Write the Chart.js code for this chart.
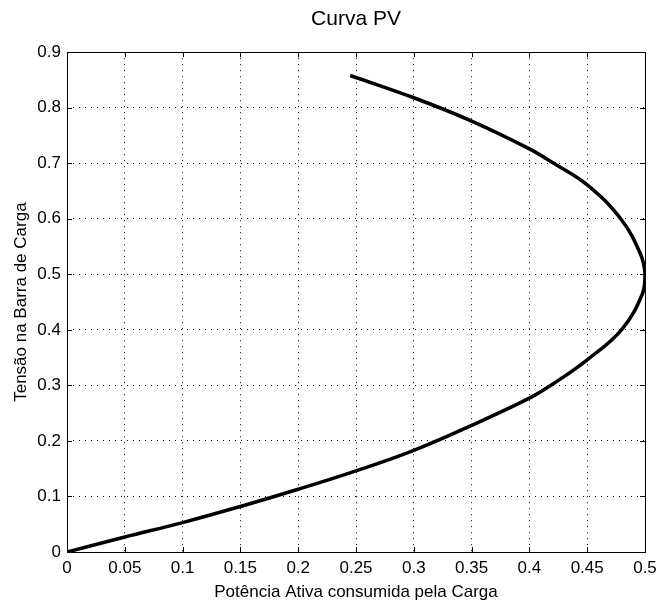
<!DOCTYPE html>
<html>
<head>
<meta charset="utf-8">
<script src="https://cdn.jsdelivr.net/npm/chart.js@4/dist/chart.umd.min.js"></script>
<style>
  html, body { margin: 0; padding: 0; background: #fff; }
  #wrap { width: 656px; height: 603px; }
</style>
</head>
<body>
<div id="wrap"><canvas id="pv"></canvas></div>
<script>
// Curva PV: tensão na barra de carga (V) contra potência ativa (P)
const tensao = [
  0.000, 0.027, 0.053, 0.082, 0.113, 0.146, 0.183, 0.228, 0.277, 0.302,
  0.346, 0.401, 0.466, 0.500, 0.537, 0.600, 0.661, 0.700, 0.726, 0.776,
  0.818, 0.858
];
const potencia = [
  0.000, 0.050, 0.100, 0.150, 0.200, 0.250, 0.300, 0.350, 0.400, 0.420,
  0.450, 0.480, 0.498, 0.500, 0.496, 0.479, 0.450, 0.421, 0.400, 0.350,
  0.300, 0.245
];

const xMin = 0, xMax = 0.5, xStep = 0.05;
const yMin = 0, yMax = 0.9, yStep = 0.1;

const FONT = "'Liberation Sans', Arial, Helvetica, sans-serif";

// frame around the plot plus inward tick marks on all four sides
const frameTicks = {
  id: 'frameTicks',
  afterDraw(chart) {
    const { ctx, chartArea: a, scales: { x, y } } = chart;
    const len = 5;
    ctx.save();
    ctx.strokeStyle = '#000';
    ctx.lineWidth = 1;
    ctx.beginPath();
    x.ticks.forEach(t => {
      const px = Math.round(x.getPixelForValue(t.value)) + 0.5;
      ctx.moveTo(px, a.bottom); ctx.lineTo(px, a.bottom - len);
      ctx.moveTo(px, a.top); ctx.lineTo(px, a.top + len);
    });
    y.ticks.forEach(t => {
      const py = Math.round(y.getPixelForValue(t.value)) + 0.5;
      ctx.moveTo(a.left, py); ctx.lineTo(a.left + len, py);
      ctx.moveTo(a.right, py); ctx.lineTo(a.right - len, py);
    });
    ctx.stroke();
    ctx.strokeRect(Math.round(a.left) + 0.5, Math.round(a.top) + 0.5,
      Math.round(a.right - a.left), Math.round(a.bottom - a.top));
    ctx.restore();
  }
};

const points = tensao.map((v, i) => ({ x: potencia[i], y: v }));

new Chart(document.getElementById('pv'), {
  type: 'scatter',
  data: {
    datasets: [{
      data: points,
      showLine: true,
      borderColor: '#000',
      borderWidth: 3.5,
      pointRadius: 0,
      tension: 0.4
    }]
  },
  options: {
    responsive: true,
    maintainAspectRatio: false,
    animation: false,
    layout: { padding: { left: 0, right: 0, top: 0, bottom: 0 } },
    plugins: {
      legend: { display: false },
      tooltip: { enabled: false },
      title: {
        display: true,
        text: 'Curva PV',
        fullSize: false,
        color: '#000',
        font: { family: FONT, size: 21, weight: 'normal' },
        padding: { top: 7, bottom: 20 }
      }
    },
    scales: {
      x: {
        type: 'linear',
        min: xMin, max: xMax,
        ticks: {
          stepSize: xStep,
          color: '#000',
          padding: 6,
          font: { family: FONT, size: 17 },
          callback: v => +v.toFixed(2) + ''
        },
        grid: { color: '#000', lineWidth: 1, drawTicks: false },
        border: { display: false, dash: [1, 5] },
        title: {
          display: true,
          text: 'Potência Ativa consumida pela Carga',
          color: '#000',
          font: { family: FONT, size: 17 },
          padding: { top: 0, bottom: 0 }
        },
        afterFit(s) {
          s.height = 51;
          s.paddingLeft = 0;
          s.paddingRight = 11;
        }
      },
      y: {
        type: 'linear',
        min: yMin, max: yMax,
        ticks: {
          stepSize: yStep,
          color: '#000',
          padding: 6,
          font: { family: FONT, size: 17 },
          callback: v => +v.toFixed(1) + ''
        },
        grid: { color: '#000', lineWidth: 1, drawTicks: false },
        border: { display: false, dash: [1, 5] },
        title: {
          display: true,
          text: 'Tensão na Barra de Carga',
          color: '#000',
          font: { family: FONT, size: 17 },
          padding: { top: 11, bottom: 0 }
        },
        afterFit(s) {
          s.width = 67;
          s.paddingTop = 0;
          s.paddingBottom = 0;
        }
      }
    }
  },
  plugins: [frameTicks]
});
</script>
</body>
</html>
